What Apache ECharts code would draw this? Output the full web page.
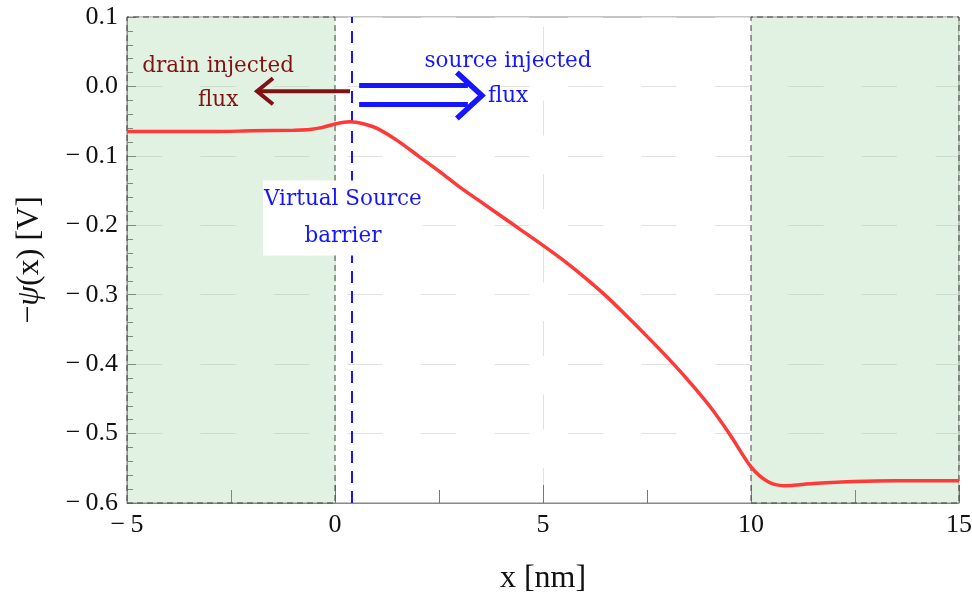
<!DOCTYPE html>
<html>
<head>
<meta charset="utf-8">
<script src="https://cdn.jsdelivr.net/npm/echarts@6/dist/echarts.min.js"></script>
<style>
html,body{margin:0;padding:0;background:#fff;}
#main{width:972px;height:596px;}
</style>
</head>
<body>
<div id="main"></div>
<script>
// ---- data ----
var xPos = [-5,-4,-3,-2,-1,-0.6,-0.3,0,0.35,0.7,1,1.5,2,2.5,3,3.5,4,4.5,5,5.5,6,6.5,7,7.5,8,8.5,9,9.5,10,10.4,10.8,11.5,12.5,13.5,15];
var psi = [-0.065,-0.065,-0.065,-0.064,-0.063,-0.062,-0.059,-0.054,-0.051,-0.054,-0.060,-0.078,-0.100,-0.122,-0.145,-0.166,-0.187,-0.208,-0.229,-0.251,-0.275,-0.301,-0.330,-0.360,-0.391,-0.424,-0.460,-0.502,-0.548,-0.569,-0.575,-0.572,-0.569,-0.568,-0.568];
var drainRegion = [-5, 0];
var sourceRegion = [10, 15];
var virtualSourceX = 0.4;
var xTicks = [-5, 0, 5, 10, 15];
var yTicks = [0.1, 0.0, -0.1, -0.2, -0.3, -0.4, -0.5, -0.6];
var labelDrain = 'drain injected\nflux';
var labelSource = 'source injected\nflux';
var labelVS = 'Virtual Source\nbarrier';

var curve = xPos.map(function (x, i) { return [x, psi[i]]; });
var serif = '"Liberation Serif", "Times New Roman", serif';
var annFont = '"DejaVu Serif", Georgia, serif';
function minus(v) { return String(v).replace('-', '\u2212\u2009'); }

var chart = echarts.init(document.getElementById('main'));
var option = {
  animation: false,
  backgroundColor: '#fff',
  grid: { left: 127, right: 13, top: 17, bottom: 93, containLabel: false, outerBoundsMode: 'none', show: true, borderColor: '#888', borderWidth: 1 },
  xAxis: {
    type: 'value', min: xTicks[0], max: xTicks[xTicks.length - 1], interval: 5,
    name: 'x [nm]', nameLocation: 'middle', nameGap: 60,
    nameTextStyle: { fontFamily: serif, fontSize: 32, color: '#111' },
    axisLine: { show: true, onZero: false, lineStyle: { color: '#888', width: 1 } },
    axisTick: { show: true, inside: true, length: 18, lineStyle: { color: '#777' } },
    minorTick: { show: true, splitNumber: 2, length: 13, lineStyle: { color: '#777' } },
    axisLabel: { fontFamily: serif, fontSize: 26, color: '#111', margin: 9, formatter: function (v) { return minus(v); } },
    splitLine: { show: true, lineStyle: { color: '#e2e2e2', width: 1, type: [35, 38.5], dashOffset: 63.5 } }
  },
  yAxis: {
    type: 'value', min: -0.6, max: 0.1, interval: 0.1,
    name: '\u2212{i|\u03c8}(x) [V]', nameLocation: 'middle', nameGap: 81, nameRotate: 90,
    nameTextStyle: { fontFamily: serif, fontSize: 32, color: '#111', rich: { i: { fontFamily: serif, fontSize: 32, fontStyle: 'italic', color: '#111' } } },
    axisLine: { show: true, onZero: false, lineStyle: { color: '#888', width: 1 } },
    axisTick: { show: true, inside: true, length: 9, lineStyle: { color: '#777' } },
    minorTick: { show: true, splitNumber: 5, length: 6, lineStyle: { color: '#777' } },
    axisLabel: { fontFamily: serif, fontSize: 26, color: '#111', margin: 9, formatter: function (v) { return minus(v.toFixed(1)); } },
    splitLine: { show: true, lineStyle: { color: '#e2e2e2', width: 1, type: [35, 38.5] } }
  },
  series: [{
    type: 'line', data: curve, smooth: 0.3, symbol: 'none', z: 5,
    lineStyle: { color: '#ff3838', width: 3.5 },
    markArea: {
      silent: true,
      itemStyle: { color: 'rgba(140,205,140,0.25)', borderColor: '#444', borderWidth: 1, borderType: [6, 4] },
      data: [
        [{ xAxis: drainRegion[0], yAxis: -0.6 }, { xAxis: drainRegion[1], yAxis: 0.1 }],
        [{ xAxis: sourceRegion[0], yAxis: -0.6 }, { xAxis: sourceRegion[1], yAxis: 0.1 }]
      ]
    },
    markLine: {
      silent: true, symbol: 'none', label: { show: false },
      lineStyle: { color: '#1515ff', width: 2, type: [12, 8] },
      data: [{ xAxis: virtualSourceX }]
    }
  }]
};
chart.setOption(option);

function P(x, y) { return chart.convertToPixel({ gridIndex: 0 }, [x, y]); }
var dA = P(0.36, -0.007), dB = P(-1.875, -0.007);
var s1 = P(0.58, 0.0014), s2 = P(0.58, -0.026), tip = P(3.53, -0.013);
var tD = P(-2.81, 0.0043), tS = P(4.16, 0.0108), tV = P(0.19, -0.1895);
var red = '#7f1212', blue = '#1515ff';
chart.setOption({
  graphic: [
    { type: 'line', z: 50, shape: { x1: dA[0], y1: dA[1], x2: dB[0] + 2, y2: dB[1] }, style: { stroke: red, lineWidth: 4 } },
    { type: 'polyline', z: 50, shape: { points: [[dB[0] + 16, dB[1] - 13], [dB[0], dB[1]], [dB[0] + 16, dB[1] + 13]] }, style: { stroke: red, lineWidth: 4, fill: null } },
    { type: 'line', z: 50, shape: { x1: s1[0], y1: s1[1], x2: tip[0] - 14, y2: s1[1] }, style: { stroke: blue, lineWidth: 5 } },
    { type: 'line', z: 50, shape: { x1: s2[0], y1: s2[1], x2: tip[0] - 14, y2: s2[1] }, style: { stroke: blue, lineWidth: 5 } },
    { type: 'polyline', z: 50, shape: { points: [[tip[0] - 25, tip[1] - 23], [tip[0], tip[1]], [tip[0] - 25, tip[1] + 23]] }, style: { stroke: blue, lineWidth: 5.5, fill: null } },
    { type: 'text', z: 60, x: tD[0], y: tD[1], style: { text: labelDrain, fill: red, font: '21.5px ' + annFont, align: 'center', verticalAlign: 'middle', lineHeight: 34 } },
    { type: 'text', z: 60, x: tS[0], y: tS[1], style: { text: labelSource, fill: blue, font: '21.5px ' + annFont, align: 'center', verticalAlign: 'middle', lineHeight: 35 } },
    { type: 'text', z: 60, x: tV[0], y: tV[1], style: { text: labelVS, fill: blue, font: '21.5px ' + annFont, align: 'center', verticalAlign: 'middle', lineHeight: 37, backgroundColor: '#fff', padding: [1, 1, 0, 1] } }
  ]
});
</script>
</body>
</html>
